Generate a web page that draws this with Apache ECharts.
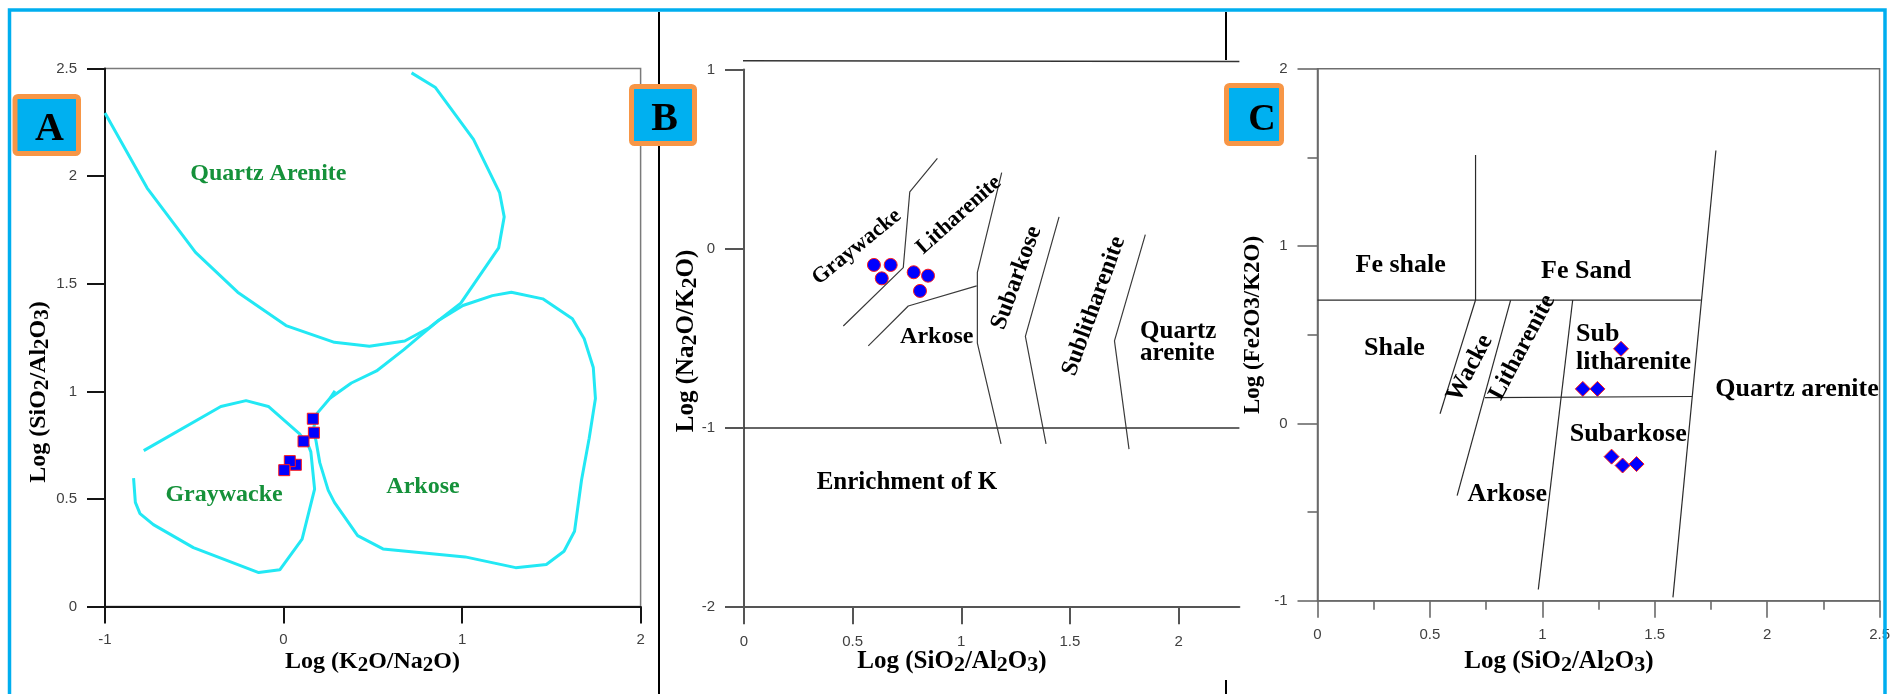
<!DOCTYPE html>
<html>
<head>
<meta charset="utf-8">
<script src="https://cdn.jsdelivr.net/npm/echarts@6/dist/echarts.min.js"></script>
<style>
  html, body { margin: 0; padding: 0; background: #fff; }
  #chart { width: 1893px; height: 694px; }
</style>
</head>
<body>
<div id="chart"></div>
<script>
// ---------- Panel A: Log(K2O/Na2O) vs Log(SiO2/Al2O3) ----------
const aTicksX = [-1, 0, 1, 2];
const aTicksY = [0, 0.5, 1, 1.5, 2, 2.5];
const aQuartzArenite = [[-1.0, 2.294], [-0.764, 1.945], [-0.493, 1.646], [-0.257, 1.461], [0.014, 1.306],
  [0.285, 1.228], [0.481, 1.210], [0.679, 1.234], [0.816, 1.296], [0.993, 1.410], [1.205, 1.667],
  [1.236, 1.811], [1.210, 1.924], [1.064, 2.171], [0.851, 2.412], [0.717, 2.480]];
const aArkose = [[0.260, 0.968], [0.380, 1.039], [0.521, 1.095], [0.674, 1.194], [0.863, 1.327],
  [1.005, 1.399], [1.170, 1.445], [1.276, 1.461], [1.452, 1.430], [1.618, 1.338], [1.684, 1.245],
  [1.735, 1.111], [1.747, 0.967], [1.712, 0.782], [1.669, 0.587], [1.630, 0.350], [1.571, 0.257],
  [1.472, 0.196], [1.300, 0.181], [1.017, 0.231], [0.557, 0.268], [0.415, 0.330], [0.285, 0.484],
  [0.250, 0.541], [0.203, 0.669], [0.181, 0.774], [0.166, 0.820], [0.188, 0.898], [0.260, 0.968]];
const aArkoseHook = [[0.260, 0.968], [0.288, 1.002]];
const aGraywacke = [[-0.783, 0.725], [-0.351, 0.930], [-0.210, 0.957], [-0.085, 0.930], [0.090, 0.803],
  [0.138, 0.751], [0.153, 0.719], [0.174, 0.546], [0.104, 0.314], [-0.021, 0.171], [-0.139, 0.158],
  [-0.505, 0.274], [-0.729, 0.381], [-0.804, 0.432], [-0.830, 0.484], [-0.840, 0.597]];
const aSamples = [[0.164, 0.873], [0.170, 0.808], [0.112, 0.768], [0.069, 0.659], [0.035, 0.676], [0.004, 0.634]];
const aLabels = [['Quartz Arenite', -0.085, 2.01], ['Graywacke', -0.333, 0.519], ['Arkose', 0.781, 0.555]];

// ---------- Panel B: Log(SiO2/Al2O3) vs Log(Na2O/K2O) ----------
const bTicksX = [0, 0.5, 1, 1.5, 2];
const bTicksY = [-2, -1, 0, 1];
const bTopRule = [[-0.023, 1.049], [2.28, 1.045]];
const bKEnrichment = [[0, -1], [2.28, -1]];
const bGraywackeLith = [[0.457, -0.431], [0.733, -0.105], [0.763, 0.318], [0.890, 0.505]];
const bArkoseTop = [[0.572, -0.542], [0.756, -0.319], [1.071, -0.207]];
const bSubarkoseLeft = [[1.186, 0.425], [1.074, -0.131], [1.074, -0.526], [1.183, -1.089]];
const bSubarkoseRight = [[1.450, 0.178], [1.295, -0.489], [1.390, -1.089]];
const bQuartzLeft = [[1.847, 0.079], [1.705, -0.514], [1.772, -1.118]];
const bSamples = [[0.598, -0.090], [0.675, -0.090], [0.634, -0.165], [0.781, -0.131], [0.847, -0.150], [0.810, -0.235]];
const bLabels = [['Graywacke', 0.519, 0.01], ['Litharenite', 0.989, 0.188], ['Arkose', 0.887, -0.49],
  ['Subarkose', 1.254, -0.162], ['Sublitharenite', 1.610, -0.320], ['Quartz\narenite', 1.823, -0.525],
  ['Enrichment of K', 0.750, -1.303]];

// ---------- Panel C: Log(SiO2/Al2O3) vs Log(Fe2O3/K2O) ----------
const cTicksX = [0, 0.5, 1, 1.5, 2, 2.5];
const cTicksY = [-1, 0, 1, 2];
const cFeDivide = [[0, 0.696], [1.705, 0.696]];
const cShaleSand = [[0.703, 1.514], [0.703, 0.696]];
const cShaleWacke = [[0.703, 0.696], [0.545, 0.055]];
const cWackeLith = [[0.859, 0.696], [0.621, -0.407]];
const cLithSublith = [[1.135, 0.696], [0.982, -0.936]];
const cSublithSubark = [[0.745, 0.146], [1.667, 0.152]];
const cQuartzLeft = [[1.772, 1.539], [1.581, -0.981]];
const cSamples = [[1.350, 0.421], [1.180, 0.195], [1.245, 0.195], [1.308, -0.187], [1.357, -0.237], [1.419, -0.229]];
const cLabels = [['Fe shale', 0.370, 0.890], ['Fe Sand', 1.195, 0.861], ['Shale', 0.342, 0.424],
  ['Wacke', 0.678, 0.311], ['Litharenite', 0.911, 0.429], ['Sub\nlitharenite', 1.150, 0.4255],
  ['Subarkose', 1.382, -0.063], ['Arkose', 0.844, -0.402], ['Quartz arenite', 2.133, 0.192]];

// ---------- styling ----------
const serif = '"Liberation Serif","Times New Roman",serif';
const sans = '"Liberation Sans",Arial,sans-serif';
const CYAN = '#22e8f4';
const FIELD_GREEN = '#15913a';

// label look per panel: rotation, size, alignment
const labelStyleB = {
  'Graywacke': { rotate: 39, fontSize: 22 },
  'Litharenite': { rotate: 42, fontSize: 22 },
  'Subarkose': { rotate: 70, fontSize: 24 },
  'Sublitharenite': { rotate: 70, fontSize: 24 },
  'Quartz\narenite': { align: 'left', lineHeight: 22 },
  'Arkose': { fontSize: 24 }
};
const labelStyleC = {
  'Wacke': { rotate: 62, fontSize: 25 },
  'Litharenite': { rotate: 62, fontSize: 24 },
  'Sub\nlitharenite': { align: 'left', lineHeight: 28 }
};

function valueAxis(gridIndex, min, max, interval, ticks, o) {
  const line = { color: o.color, width: o.width };
  return {
    type: 'value', gridIndex, min, max, interval,
    axisLine: { show: true, onZero: false, lineStyle: line },
    axisTick: { show: true, length: o.tick, customValues: ticks, lineStyle: line },
    minorTick: o.minor ? { show: true, splitNumber: 2, length: o.minor, lineStyle: line } : { show: false },
    axisLabel: { margin: o.margin, customValues: ticks, color: '#404040', fontSize: 15, fontFamily: sans },
    splitLine: { show: false }
  };
}

function polyline(idx, data, color, width, clip) {
  return {
    type: 'line', xAxisIndex: idx, yAxisIndex: idx, data, symbol: 'none', silent: true,
    clip: clip !== false, z: 2, animation: false,
    lineStyle: { color, width }
  };
}

function samples(idx, data, symbol, size) {
  return {
    type: 'scatter', xAxisIndex: idx, yAxisIndex: idx, data, symbol, symbolSize: size, z: 5,
    itemStyle: { color: '#0000ff', borderColor: '#ff1a1a', borderWidth: 1, opacity: 1 }
  };
}

function fieldLabels(idx, items, base, styles) {
  return {
    type: 'scatter', xAxisIndex: idx, yAxisIndex: idx, symbolSize: 1, silent: true, z: 4, clip: false,
    itemStyle: { color: 'rgba(0,0,0,0)' },
    data: items.map(([text, x, y]) => {
      const s = (styles && styles[text]) || {};
      return { value: [x, y], name: text, label: Object.assign({}, s) };
    }),
    label: Object.assign({
      show: true, position: 'inside', formatter: p => p.name,
      fontFamily: serif, fontWeight: 'bold', color: '#000',
      textBorderWidth: 0, opacity: 1
    }, base)
  };
}

// axis titles with lowered digits
function toRich(s) {
  return s.split(/(\d)/).filter(Boolean).map(t => /\d/.test(t) ? '{s|' + t + '}' : '{n|' + t + '}').join('');
}
function axisTitle(x, y, text, vertical, size, subscripts) {
  const rich = {
    n: { fontSize: size, fontWeight: 'bold', fontFamily: serif, fill: '#000', lineHeight: size + 2, verticalAlign: 'top' },
    s: { fontSize: size - 3, fontWeight: 'bold', fontFamily: serif, fill: '#000', lineHeight: size, padding: [5, 0, 0, 0], verticalAlign: 'top' }
  };
  return {
    type: 'text', x, y, rotation: vertical ? Math.PI / 2 : 0, z: 50, silent: true,
    style: {
      text: subscripts ? toRich(text) : text,
      fontSize: size, fontWeight: 'bold', fontFamily: serif, fill: '#000',
      align: 'center', verticalAlign: 'middle', rich: subscripts ? rich : undefined
    }
  };
}

function panelTag(x, y, w, h, letter, lx, ly, size) {
  return [
    { type: 'rect', z: 90, silent: true, shape: { x, y, width: w, height: h, r: 3 },
      style: { fill: '#00b0f0', stroke: '#f79646', lineWidth: 5 } },
    { type: 'text', z: 91, silent: true, x: lx, y: ly,
      style: { text: letter, fontSize: size, fontWeight: 'bold', fontFamily: serif, fill: '#000', align: 'center', verticalAlign: 'middle' } }
  ];
}

function rule(x1, y1, x2, y2, color, width, z) {
  return { type: 'line', z: z || 80, silent: true, shape: { x1, y1, x2, y2 }, style: { stroke: color, lineWidth: width } };
}

const axA = { color: '#151515', width: 2, tick: 18, margin: 28 };
const axAx = { color: '#151515', width: 2, tick: 17, margin: 26 };
const axB = { color: '#555', width: 2, tick: 19, margin: 29 };
const axBx = { color: '#555', width: 2, tick: 17, margin: 27 };
const axC = { color: '#6a6a6a', width: 1.6, tick: 20, minor: 10, margin: 30 };
const axCx = { color: '#6a6a6a', width: 1.6, tick: 17, minor: 9, margin: 27 };

const option = {
  animation: false,
  backgroundColor: '#fff',
  grid: [
    { left: 105, top: 68.6, width: 535.6, height: 538, show: true, borderColor: '#7a7a7a', borderWidth: 1.5 },
    { left: 744, top: 69.6, width: 495.4, height: 537.6 },
    { left: 1317.5, top: 68.8, width: 564, height: 532, show: true, borderColor: '#6e6e6e', borderWidth: 1.5 }
  ],
  xAxis: [
    valueAxis(0, -1, 2, 1, aTicksX, axAx),
    valueAxis(1, 0, 2.28, 0.5, bTicksX, axBx),
    valueAxis(2, 0, 2.5, 0.5, cTicksX, axCx)
  ],
  yAxis: [
    valueAxis(0, 0, 2.5, 0.5, aTicksY, axA),
    valueAxis(1, -2, 1, 1, bTicksY, axB),
    valueAxis(2, -1, 2, 1, cTicksY, axC)
  ],
  series: [
    // Panel A fields
    polyline(0, aQuartzArenite, CYAN, 3),
    polyline(0, aArkose, CYAN, 3),
    polyline(0, aArkoseHook, CYAN, 3),
    polyline(0, aGraywacke, CYAN, 3),
    fieldLabels(0, aLabels, { fontSize: 24, color: FIELD_GREEN }),
    samples(0, aSamples, 'rect', 11),
    // Panel B fields
    polyline(1, bTopRule, '#333', 1.5, false),
    polyline(1, bKEnrichment, '#333', 1.3),
    polyline(1, bGraywackeLith, '#3a3a3a', 1.2),
    polyline(1, bArkoseTop, '#3a3a3a', 1.2),
    polyline(1, bSubarkoseLeft, '#3a3a3a', 1.2),
    polyline(1, bSubarkoseRight, '#3a3a3a', 1.2),
    polyline(1, bQuartzLeft, '#3a3a3a', 1.2),
    fieldLabels(1, bLabels, { fontSize: 25 }, labelStyleB),
    samples(1, bSamples, 'circle', 13),
    // Panel C fields
    polyline(2, cFeDivide, '#2b2b2b', 1.2),
    polyline(2, cShaleSand, '#2b2b2b', 1.2),
    polyline(2, cShaleWacke, '#2b2b2b', 1.2),
    polyline(2, cWackeLith, '#2b2b2b', 1.2),
    polyline(2, cLithSublith, '#2b2b2b', 1.2),
    polyline(2, cSublithSubark, '#2b2b2b', 1.2),
    polyline(2, cQuartzLeft, '#2b2b2b', 1.2),
    fieldLabels(2, cLabels, { fontSize: 26 }, labelStyleC),
    samples(2, cSamples, 'diamond', 15)
  ],
  graphic: {
    elements: [
      // panel separators
      rule(659, 12, 659, 694, '#000', 2),
      rule(1226, 12, 1226, 60, '#000', 2),
      rule(1226, 680, 1226, 694, '#000', 2),
      // axis titles
      axisTitle(372.5, 663, 'Log (K2O/Na2O)', false, 24, true),
      axisTitle(40, 392, 'Log (SiO2/Al2O3)', true, 24, true),
      axisTitle(952, 663, 'Log (SiO2/Al2O3)', false, 25, true),
      axisTitle(688, 341, 'Log (Na2O/K2O)', true, 25, true),
      axisTitle(1559, 663, 'Log (SiO2/Al2O3)', false, 25, true),
      axisTitle(1253.5, 325, 'Log (Fe2O3/K2O)', true, 23, false),
      // panel tags
      ...panelTag(15, 96.5, 63.5, 57, 'A', 49.5, 130, 40),
      ...panelTag(631.5, 86.5, 63, 57, 'B', 664.5, 119.5, 40),
      ...panelTag(1226.5, 85.5, 55, 58, 'C', 1262, 120, 38),
      // outer frame
      { type: 'rect', z: 100, silent: true, shape: { x: 9.5, y: 10, width: 1875.5, height: 720 },
        style: { fill: null, stroke: '#00aeef', lineWidth: 3.5 } }
    ]
  }
};

const chart = echarts.init(document.getElementById('chart'), null, { renderer: 'canvas' });
chart.setOption(option);
</script>
</body>
</html>
